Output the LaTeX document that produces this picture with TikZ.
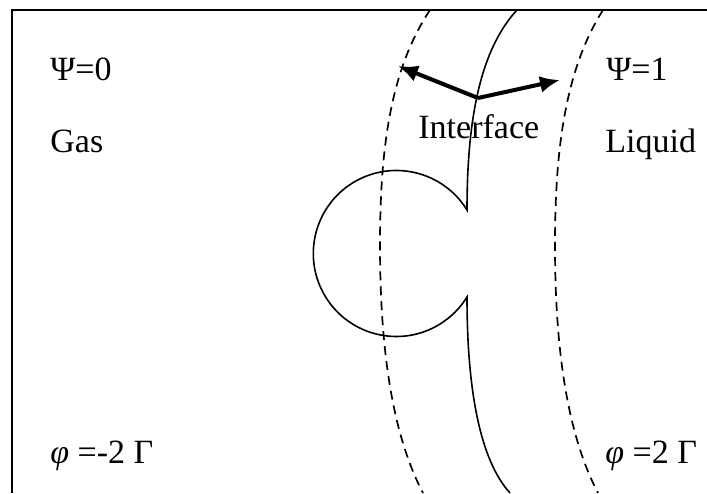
\documentclass[tikz,border=0pt]{standalone}
\usepackage{fontspec}
\setmainfont{Liberation Serif}
\usetikzlibrary{arrows.meta}
\begin{document}
\begin{tikzpicture}[x=0.5pt,y=-0.5pt,
  lbl/.style={anchor=base west,inner sep=0pt,font=\fontsize{17pt}{20pt}\selectfont},
  frameline/.style={line width=1.3pt},
  curve/.style={line width=0.8pt},
  dcurve/.style={line width=0.85pt,dash pattern=on 4.5pt off 3pt},
  bigarrow/.style={line width=2pt,-{Latex[length=10pt,width=8.5pt]}}]
\useasboundingbox (0,0) rectangle (707,493);
% frame (top and left)
\draw[frameline] (12,493) -- (12,10) -- (707,10);
% dashed bounds
\draw[dcurve] (430,10) .. controls (390,70) and (380,150) .. (380,245) .. controls (380,340) and (390,430) .. (423,493);
\draw[dcurve] (603,10) .. controls (565,70) and (555,150) .. (555,245) .. controls (555,340) and (565,430) .. (598,493);
% solid interface with bubble
\coordinate (cu) at (467,210);
\coordinate (cl) at (467,297);
\draw[curve] (517,10) .. controls (480,50) and (467,120) .. (cu)
  arc[start angle=-31.6,end angle=-328.4,radius=83]
  .. controls (467,390) and (480,460) .. (510,493);
% arrows
\coordinate (ac) at (478,98);
\coordinate (al) at (398,66);
\coordinate (ar) at (560,80);
\draw[bigarrow] (ac) -- (al);
\draw[bigarrow] (ac) -- (ar);
% labels
\node[lbl] (p0) at (50,80) {Ψ=0};
\node[lbl] (gas) at (50,152) {Gas};
\node[lbl] (p1) at (606,80) {Ψ=1};
\node[lbl] (liq) at (605,152) {Liquid};
\node[lbl] (itf) at (418,138) {Interface};
\node[lbl] (phl) at (50,463) {{\itshape φ} =-2 Γ};
\node[lbl] (phr) at (605,463) {{\itshape φ} =2 Γ};
\end{tikzpicture}
\end{document}
